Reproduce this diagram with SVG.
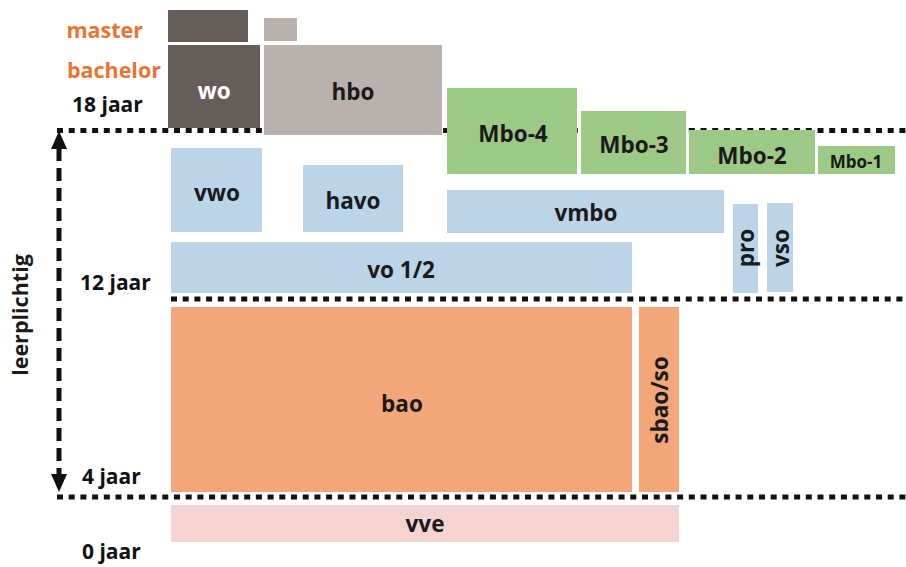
<svg xmlns="http://www.w3.org/2000/svg" width="906" height="567" viewBox="0 0 906 567">
<style>
text{font-family:"Open Sans","Liberation Sans",sans-serif;font-weight:700;text-anchor:middle;dominant-baseline:central}
.lbl{font-size:22.5px;fill:#1a1a1a}
.side{font-size:21px;fill:#111;text-anchor:start}
.or{fill:#ea7432;text-anchor:end;font-size:21.5px}
.dot{stroke:#111;stroke-width:5;stroke-dasharray:6 5.7;fill:none}
.wo{fill:#645d5a}
.hbo{fill:#b9b1ad}
.mbo{fill:#9dc987}
.vo{fill:#bcd4e8}
.bao{fill:#f3a679}
.vve{fill:#f4d3d0}
</style>
<rect width="906" height="567" fill="#fff"/>
<g id="connectors">
<line class="dot" x1="57" y1="130.5" x2="906" y2="130.5"/>
<line class="dot" x1="171" y1="299" x2="906" y2="299"/>
<line class="dot" x1="57" y1="497" x2="906" y2="497"/>
<line x1="59" y1="148" x2="59" y2="476" stroke="#111" stroke-width="5" stroke-dasharray="13 7"/>
<polygon points="59,131 51,149 67,149" fill="#111"/>
<polygon points="59,492 51,474 67,474" fill="#111"/>
</g>
<g id="labels">
<text class="or" x="143" y="29">master</text>
<text class="or" x="161" y="69">bachelor</text>
<text class="side" x="72" y="104">18 jaar</text>
<text class="side" x="80" y="282">12 jaar</text>
<text class="side" x="82" y="476">4 jaar</text>
<text class="side" x="82" y="551">0 jaar</text>
<text class="lbl" x="0" y="0" transform="translate(19,315) rotate(-90)" style="font-size:21.5px">leerplichtig</text>
</g>
<g id="wo-master"><rect class="wo" x="168" y="10" width="80" height="32"/></g>
<g id="hbo-master"><rect class="hbo" x="264" y="18" width="33" height="23"/></g>
<g id="wo"><rect class="wo" x="168" y="45" width="92" height="83"/><text class="lbl" x="214" y="90" style="fill:#fff">wo</text></g>
<g id="hbo"><rect class="hbo" x="264" y="45" width="178" height="90"/><text class="lbl" x="353" y="91">hbo</text></g>
<g id="mbo4"><rect class="mbo" x="447" y="88" width="130" height="86"/><text class="lbl" x="513" y="133">Mbo-4</text></g>
<g id="mbo3"><rect class="mbo" x="581" y="111" width="105" height="63"/><text class="lbl" x="634" y="144">Mbo-3</text></g>
<g id="mbo2"><rect class="mbo" x="689" y="130" width="126" height="44"/><text class="lbl" x="752" y="155">Mbo-2</text></g>
<g id="mbo1"><rect class="mbo" x="818" y="146" width="77" height="28"/><text class="lbl" x="856" y="161" style="font-size:17px">Mbo-1</text></g>
<g id="vwo"><rect class="vo" x="171" y="148" width="91" height="84"/><text class="lbl" x="217" y="192">vwo</text></g>
<g id="havo"><rect class="vo" x="303" y="165" width="100" height="67"/><text class="lbl" x="353" y="200">havo</text></g>
<g id="vmbo"><rect class="vo" x="447" y="190" width="277" height="43"/><text class="lbl" x="586" y="212">vmbo</text></g>
<g id="vo12"><rect class="vo" x="171" y="242" width="461" height="51"/><text class="lbl" x="401" y="269">vo 1/2</text></g>
<g id="pro"><rect class="vo" x="733" y="204" width="25" height="89"/><text class="lbl" x="0" y="0" transform="translate(745,248) rotate(-90)">pro</text></g>
<g id="vso"><rect class="vo" x="767" y="203" width="26" height="89"/><text class="lbl" x="0" y="0" transform="translate(780,248) rotate(-90)">vso</text></g>
<g id="bao"><rect class="bao" x="171" y="307" width="461" height="185"/><text class="lbl" x="402" y="403">bao</text></g>
<g id="sbaoso"><rect class="bao" x="639" y="307" width="40" height="185"/><text class="lbl" x="0" y="0" transform="translate(659,400) rotate(-90)">sbao/so</text></g>
<g id="vve"><rect class="vve" x="171" y="505" width="508" height="37"/><text class="lbl" x="425" y="523">vve</text></g>
</svg>
